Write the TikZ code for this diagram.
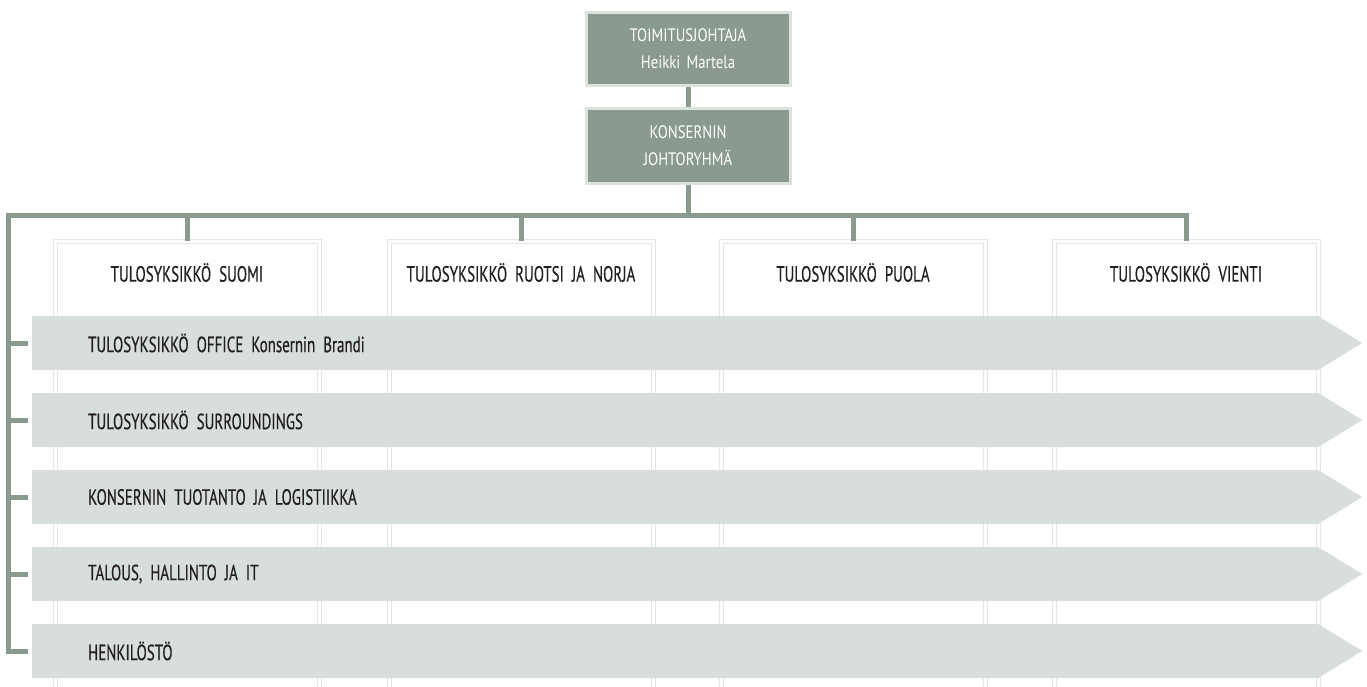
\documentclass[tikz,border=0pt]{standalone}
\usepackage{fontspec}
\setmainfont{PT Sans}[FakeStretch=0.68, WordSpace=2, FakeBold=0.4]
\newfontfamily\leadfont{PT Sans}[FakeStretch=0.82, WordSpace=1.6]
\usetikzlibrary{shapes.symbols}
\definecolor{lead}{HTML}{8A9A8F}
\definecolor{leadrim}{HTML}{DCE2DE}
\definecolor{bandfill}{HTML}{D8DEDC}
\definecolor{frame}{HTML}{E4E6E5}
\definecolor{ink}{HTML}{231F20}
\begin{document}
\begin{tikzpicture}[x=1pt, y=-1pt,
    leader/.style={fill=lead, draw=leadrim, line width=3pt, minimum width=204, minimum height=73, text=white, align=center, font=\leadfont\fontsize{18}{27}\selectfont},
    unit/.style={draw=frame, line width=1pt, double=white, double distance=3pt, minimum width=264, minimum height=470, anchor=north},
    band/.style={signal, signal to=east, signal pointer angle=63, fill=bandfill, minimum width=1330, minimum height=54, inner sep=0pt, anchor=west},
    label/.style={text=ink, font=\fontsize{22}{26}\selectfont, inner sep=0pt},
    link/.style={draw=lead, line width=5pt}]
    \useasboundingbox (0,0) rectangle (1367,686);

    \node[leader] (boss) at (688,48.5) {TOIMITUSJOHTAJA\\Heikki Martela};
    \node[leader, minimum height=75] (group) at (688,145.5) {KONSERNIN\\JOHTORYHMÄ};
    \coordinate (spine) at (8,215);

    \foreach \i/\x/\t in {1/187/SUOMI, 2/521/RUOTSI JA NORJA, 3/853/PUOLA, 4/1186/VIENTI} {
        \node[unit] (u\i) at (\x,240.5) {};
        \node[label] at ([yshift=-32pt]u\i.north) {TULOSYKSIKKÖ \t};
    }

    \foreach \i/\t in {1/TULOSYKSIKKÖ OFFICE Konsernin Brandi, 2/TULOSYKSIKKÖ SURROUNDINGS, 3/KONSERNIN TUOTANTO JA LOGISTIIKKA, 4/{TALOUS, HALLINTO JA IT}, 5/HENKILÖSTÖ} {
        \node[band] (b\i) at (32,{266+77*\i}) {};
        \node[label, anchor=west] at (88,{266+77*\i}) {\t};
    }

    \draw[link] (boss) -- (group);
    \draw[link] (group) -- (group.south |- spine);
    \draw[link, shorten >=4pt] (u4.north) |- (spine) |- (b5.west);
    \foreach \i in {1,2,3} {
        \draw[link] (u\i.north |- spine) -- (u\i.north);
        \draw[link, shorten >=4pt] (spine |- b\i.west) -- (b\i.west);
    }
    \draw[link, shorten >=4pt] (spine |- b4.west) -- (b4.west);

\end{tikzpicture}
\end{document}
